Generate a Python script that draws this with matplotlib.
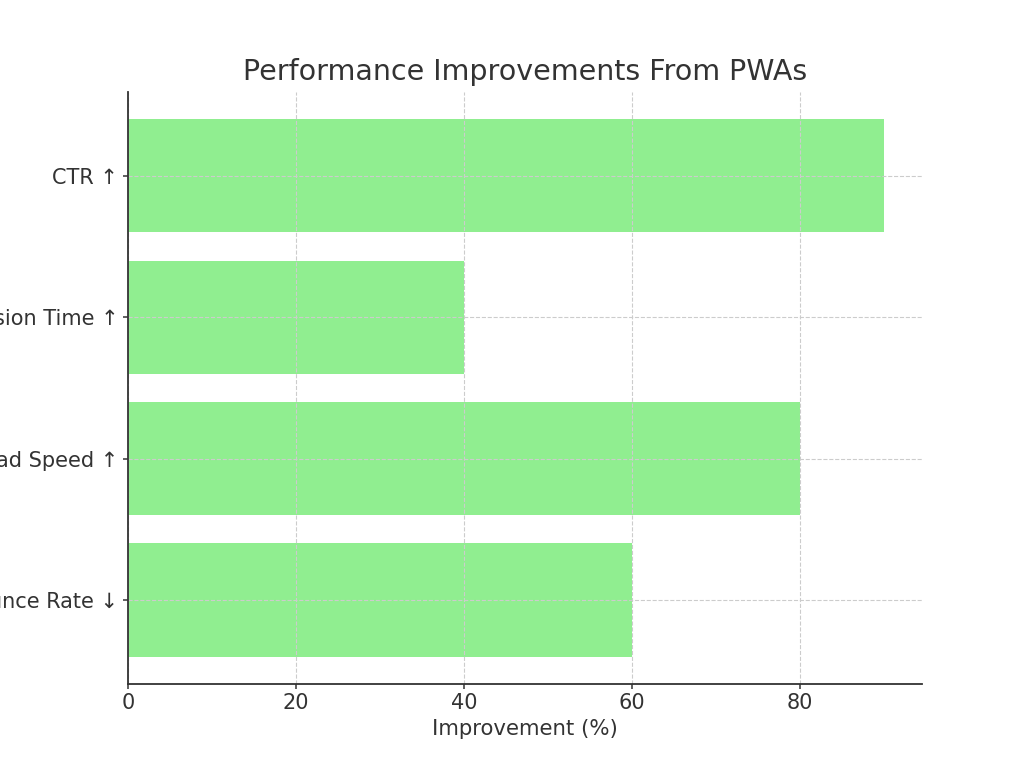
import matplotlib
matplotlib.use("Agg")
import matplotlib.pyplot as plt

categories = ["Bounce Rate ↓", "Load Speed ↑", "Session Time ↑", "CTR ↑"]
values = [60, 80, 40, 90]

plt.rcParams['font.family'] = ['DejaVu Sans']
fig, ax = plt.subplots(figsize=(10.24, 7.68), dpi=100)
fig.subplots_adjust(left=0.125, right=0.9, top=0.88, bottom=0.11)

ax.barh(categories, values, color="#90EE90", height=0.8, zorder=1)
ax.set_title("Performance Improvements From PWAs", fontsize=20.5, color="#333333", pad=9)
ax.set_xlabel("Improvement (%)", fontsize=15.3, color="#333333")
ax.tick_params(axis='both', labelsize=15, colors="#333333", length=3.5, width=1.1)
ax.grid(True, linestyle='--', color='#cccccc', linewidth=0.8, zorder=2)
ax.set_axisbelow(False)
for s in ['top', 'right']:
    ax.spines[s].set_visible(False)
for s in ['left', 'bottom']:
    ax.spines[s].set_color("#333333")
    ax.spines[s].set_linewidth(1.3)
    ax.spines[s].set_zorder(5)

fig.savefig("out.png", dpi=100)
